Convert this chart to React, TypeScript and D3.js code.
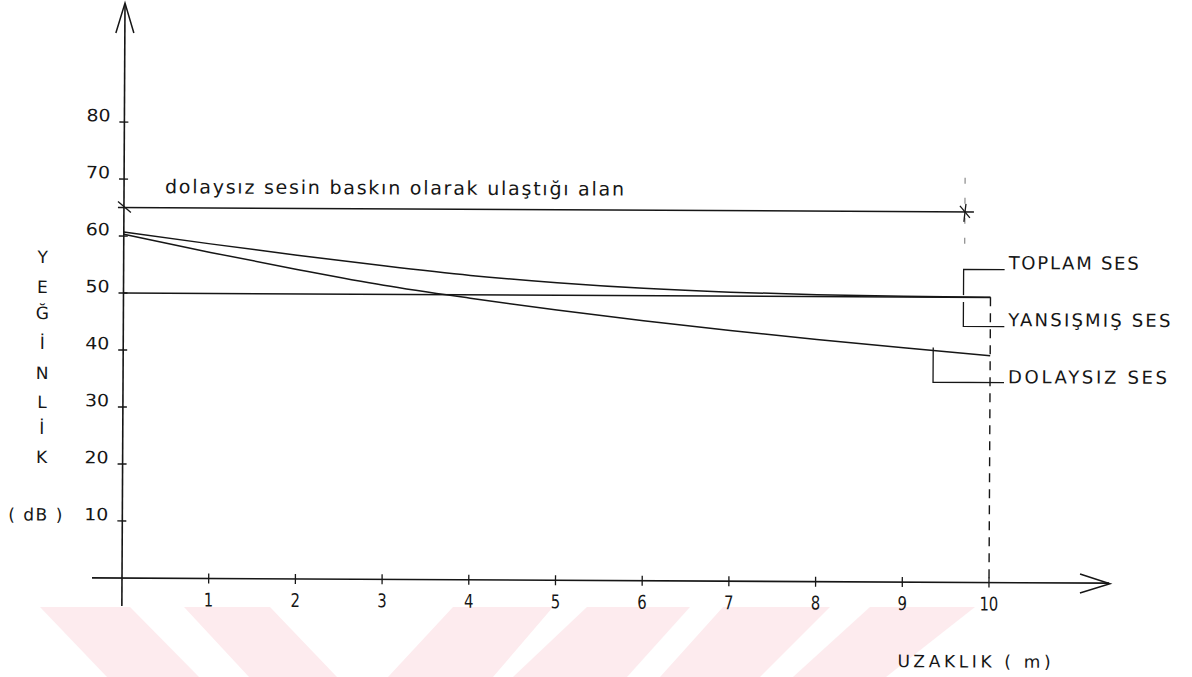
import React from "react";
import * as d3 from "d3";

// ---- data ----
const distances = [0, 1, 2, 3, 4, 5, 6, 7, 8, 9, 10];
const directSound = [60.3, 57.2, 54.3, 51.6, 49.4, 47.4, 45.6, 44.0, 42.5, 41.1, 39.8];
const totalSound = [60.7, 58.7, 56.8, 55.0, 53.4, 52.2, 51.3, 50.7, 50.35, 50.15, 50.05];
const reflectedX = [0, 10];
const reflectedSound = [50, 50];
const yTicks = [10, 20, 30, 40, 50, 60, 70, 80];
const xTicks = [1, 2, 3, 4, 5, 6, 7, 8, 9, 10];
const yTitleLetters = ["Y", "E", "Ğ", "İ", "N", "L", "İ", "K"];
const zoneLevel = 65;
const zoneEnd = 9.7;
const annotation = "dolaysız sesin baskın olarak ulaştığı alan";
const legendLabels = ["TOPLAM SES", "YANSIŞMIŞ SES", "DOLAYSIZ SES"];
const xTitle = "UZAKLIK  ( m)";
const yUnit = "( dB )";

// decorative watermark stripes (page background)
const WATERMARK: [number, number][][] = [
  [[40, 607], [130, 607], [199, 677], [107, 677]],
  [[184, 607], [270, 607], [337, 677], [249, 677]],
  [[453, 607], [553, 607], [493, 677], [388, 677]],
  [[587, 607], [690, 607], [627, 677], [513, 677]],
  [[723, 607], [830, 607], [760, 677], [660, 677]],
  [[870, 607], [975, 607], [886, 677], [793, 677]],
];

const INK = "#161616";
const FONT = "'DejaVu Sans', 'Liberation Sans', sans-serif";

export default function App() {
  const x = d3.scaleLinear().domain([0, 10]).range([122, 989]);
  const y = d3.scaleLinear().domain([0, 80]).range([578, 122]);
  const line = d3
    .line<[number, number]>()
    .x((d) => x(d[0]))
    .y((d) => y(d[1]))
    .curve(d3.curveMonotoneX);

  const directPath = line(distances.map((d, i) => [d, directSound[i]]))!;
  const totalPath = line(distances.map((d, i) => [d, totalSound[i]]))!;
  const reflPath = line(reflectedX.map((d, i) => [d, reflectedSound[i]]))!;

  const yTitleY = [257, 287, 313, 343, 373, 402, 428, 457];

  return (
    <svg
      width={1192}
      height={677}
      style={{ position: "absolute", left: 0, top: 0, background: "#fff" }}
    >
      <rect x={0} y={0} width={1192} height={677} fill="#fff" />
      {WATERMARK.map((p, i) => (
        <polygon key={i} points={p.map((q) => q.join(",")).join(" ")} fill="#fdebee" />
      ))}
      <g transform="rotate(0.3 122 578)" fontFamily={FONT} fill={INK}>
        {/* axes */}
        <line x1={122} y1={4} x2={122} y2={606} stroke={INK} strokeWidth={1.6} />
        <polyline points="113,33 122,3 131,33" fill="none" stroke={INK} strokeWidth={1.5} />
        <line x1={92} y1={578} x2={1109} y2={578} stroke={INK} strokeWidth={1.6} />
        <polyline points="1080,569 1110,578.5 1080,588" fill="none" stroke={INK} strokeWidth={1.5} />

        {/* y ticks */}
        {yTicks.map((t) => (
          <g key={t}>
            <line x1={117} x2={126} y1={y(t)} y2={y(t)} stroke={INK} strokeWidth={1.3} />
            <text x={108} y={y(t) - 0.5} textAnchor="end" fontSize={17} textLength={24} lengthAdjust="spacingAndGlyphs">
              {t}
            </text>
          </g>
        ))}
        {/* x ticks */}
        {xTicks.map((t) => (
          <g key={t}>
            <line x1={x(t)} x2={x(t)} y1={573} y2={583} stroke={INK} strokeWidth={1.3} />
            <text
              transform={`translate(${x(t)},${606}) scale(0.78,1)`}
              textAnchor="middle"
              fontSize={19}
            >
              {t}
            </text>
          </g>
        ))}

        {/* y title */}
        {yTitleLetters.map((l, i) => (
          <text key={i} x={41} y={yTitleY[i] + 6.5} textAnchor="middle" fontSize={17}>
            {l}
          </text>
        ))}
        <text x={35} y={521} textAnchor="middle" fontSize={17} textLength={54} lengthAdjust="spacing">
          {yUnit}
        </text>

        {/* x title */}
        <text x={898} y={663} fontSize={17} textLength={153} lengthAdjust="spacing">
          {xTitle}
        </text>

        {/* curves */}
        <path d={reflPath} fill="none" stroke={INK} strokeWidth={1.5} />
        <path d={totalPath} fill="none" stroke={INK} strokeWidth={1.5} />
        <path d={directPath} fill="none" stroke={INK} strokeWidth={1.5} />

        {/* dashed line at 10 m */}
        <line
          x1={x(10)}
          x2={x(10)}
          y1={y(totalSound[10])}
          y2={578}
          stroke={INK}
          strokeWidth={1.4}
          strokeDasharray="9,7"
        />

        {/* direct-dominant zone annotation */}
        <line x1={x(0) - 6} x2={x(zoneEnd) + 9} y1={y(zoneLevel)} y2={y(zoneLevel)} stroke={INK} strokeWidth={1.5} />
        <line x1={x(0) - 6} y1={y(zoneLevel) - 6} x2={x(0) + 7} y2={y(zoneLevel) + 5} stroke={INK} strokeWidth={1.3} />
        <line x1={x(zoneEnd) - 5} y1={y(zoneLevel) - 6} x2={x(zoneEnd) + 5} y2={y(zoneLevel) + 6} stroke={INK} strokeWidth={1.3} />
        <line x1={x(zoneEnd) + 1} y1={y(zoneLevel) - 8} x2={x(zoneEnd) - 1} y2={y(zoneLevel) + 10} stroke={INK} strokeWidth={1.3} />
        <line
          x1={x(zoneEnd)}
          x2={x(zoneEnd)}
          y1={y(71)}
          y2={y(57)}
          stroke={INK}
          strokeWidth={1}
          strokeDasharray="6,14"
          opacity={0.6}
        />
        <text x={163} y={193} fontSize={19} textLength={459} lengthAdjust="spacing">
          {annotation}
        </text>

        {/* legend brackets */}
        <polyline points={`1003,265 962,265 962,${y(50.4)}`} fill="none" stroke={INK} strokeWidth={1.3} />
        <polyline points={`962,${y(49.2)} 962,322 1003,322`} fill="none" stroke={INK} strokeWidth={1.3} />
        <polyline points={`932,${y(directSound[9]) - 0.5} 932,378 1003,378`} fill="none" stroke={INK} strokeWidth={1.3} />
        <text x={1007} y={264.5} fontSize={18} textLength={130} lengthAdjust="spacing">
          {legendLabels[0]}
        </text>
        <text x={1007} y={321.5} fontSize={18} textLength={162} lengthAdjust="spacing">
          {legendLabels[1]}
        </text>
        <text x={1007} y={378.5} fontSize={18} textLength={159} lengthAdjust="spacing">
          {legendLabels[2]}
        </text>
      </g>
    </svg>
  );
}
